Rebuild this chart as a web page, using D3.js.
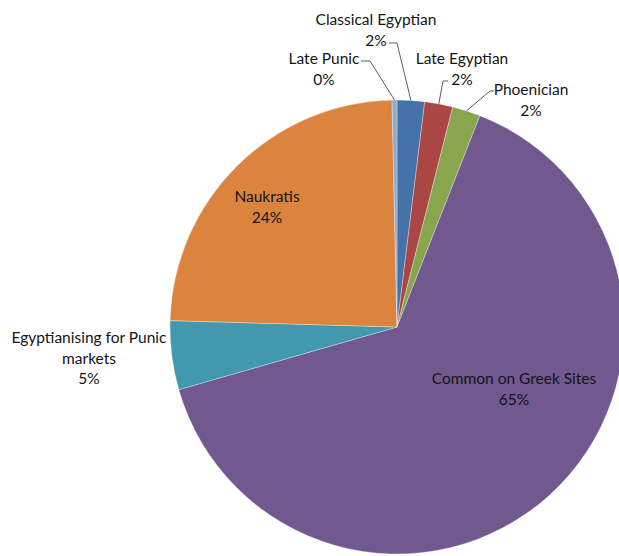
<!DOCTYPE html>
<html>
<head>
<meta charset="utf-8">
<script src="https://cdn.jsdelivr.net/npm/d3@7"></script>
<style>
  html, body { margin: 0; padding: 0; background: #fff; overflow: hidden; }
  svg text { font-family: Lato, "Liberation Sans", sans-serif; font-size: 15.5px; fill: #141414; }
</style>
</head>
<body>
<svg id="chart" width="619" height="556"></svg>
<script>
// slices, clockwise from 12 o'clock
const categories = [
  'Classical Egyptian',
  'Late Egyptian',
  'Phoenician',
  'Common on Greek Sites',
  'Egyptianising for Punic markets',
  'Naukratis',
  'Late Punic'
];
const values = [1.95, 2.0, 2.0, 64.6, 4.9, 24.2, 0.35];
const colors = ['#4572A7', '#AA4643', '#89A54E', '#71588F', '#4198AF', '#DB843D', '#93A9CF'];

// label placement (layout only, not data)
// lines: text lines of the category name, x/y: centre of first line
// leader: elbow point (ex, ey) and end of the short horizontal tick (hx)
const labelLayout = {
  'Classical Egyptian': { lines: ['Classical Egyptian'], x: 376, y: 20, leader: { ex: 397, ey: 43, hx: 389 } },
  'Late Egyptian': { lines: ['Late Egyptian'], x: 462, y: 59, leader: { ex: 443, ey: 81, hx: 448 } },
  'Phoenician': { lines: ['Phoenician'], x: 531, y: 90, leader: { ex: 490, ey: 91, hx: 494 } },
  'Common on Greek Sites': { lines: ['Common on Greek Sites'], x: 514, y: 379 },
  'Egyptianising for Punic markets': { lines: ['Egyptianising for Punic', 'markets'], x: 89, y: 338 },
  'Naukratis': { lines: ['Naukratis'], x: 267, y: 197 },
  'Late Punic': { lines: ['Late Punic'], x: 324, y: 59, leader: { ex: 370, ey: 61, hx: 361 } }
};

const cx = 397, cy = 327, r = 227, lineH = 20.5;
const total = d3.sum(values);
const pct = d3.format('.0%');

const svg = d3.select('#chart');
const g = svg.append('g').attr('transform', 'translate(' + cx + ',' + cy + ')');

const pie = d3.pie().sort(null).value(d => d.value);
const arc = d3.arc().innerRadius(0).outerRadius(r);

const data = categories.map((c, i) => ({ name: c, value: values[i], color: colors[i] }));
const arcs = pie(data);

g.selectAll('path.slice')
  .data(arcs)
  .enter().append('path')
  .attr('class', 'slice')
  .attr('d', arc)
  .attr('fill', d => d.data.color)
  .attr('stroke', 'rgba(255,255,255,0.45)')
  .attr('stroke-width', 0.7);

// leader lines
arcs.forEach(d => {
  const lay = labelLayout[d.data.name];
  if (!lay.leader) return;
  const mid = (d.startAngle + d.endAngle) / 2;
  const px = cx + r * Math.sin(mid), py = cy - r * Math.cos(mid);
  svg.append('polyline')
    .attr('points', [[px, py], [lay.leader.ex, lay.leader.ey], [lay.leader.hx, lay.leader.ey]].map(p => p.join(',')).join(' '))
    .attr('fill', 'none')
    .attr('stroke', '#5e5e5e')
    .attr('stroke-width', 1);
});

// labels
arcs.forEach(d => {
  const lay = labelLayout[d.data.name];
  const lines = lay.lines.concat([pct(d.data.value / total)]);
  const t = svg.append('text')
    .attr('text-anchor', 'middle');
  lines.forEach((ln, i) => {
    t.append('tspan')
      .attr('x', lay.x)
      .attr('y', lay.y + i * lineH)
      .attr('dy', '0.35em')
      .text(ln);
  });
});
</script>
</body>
</html>
